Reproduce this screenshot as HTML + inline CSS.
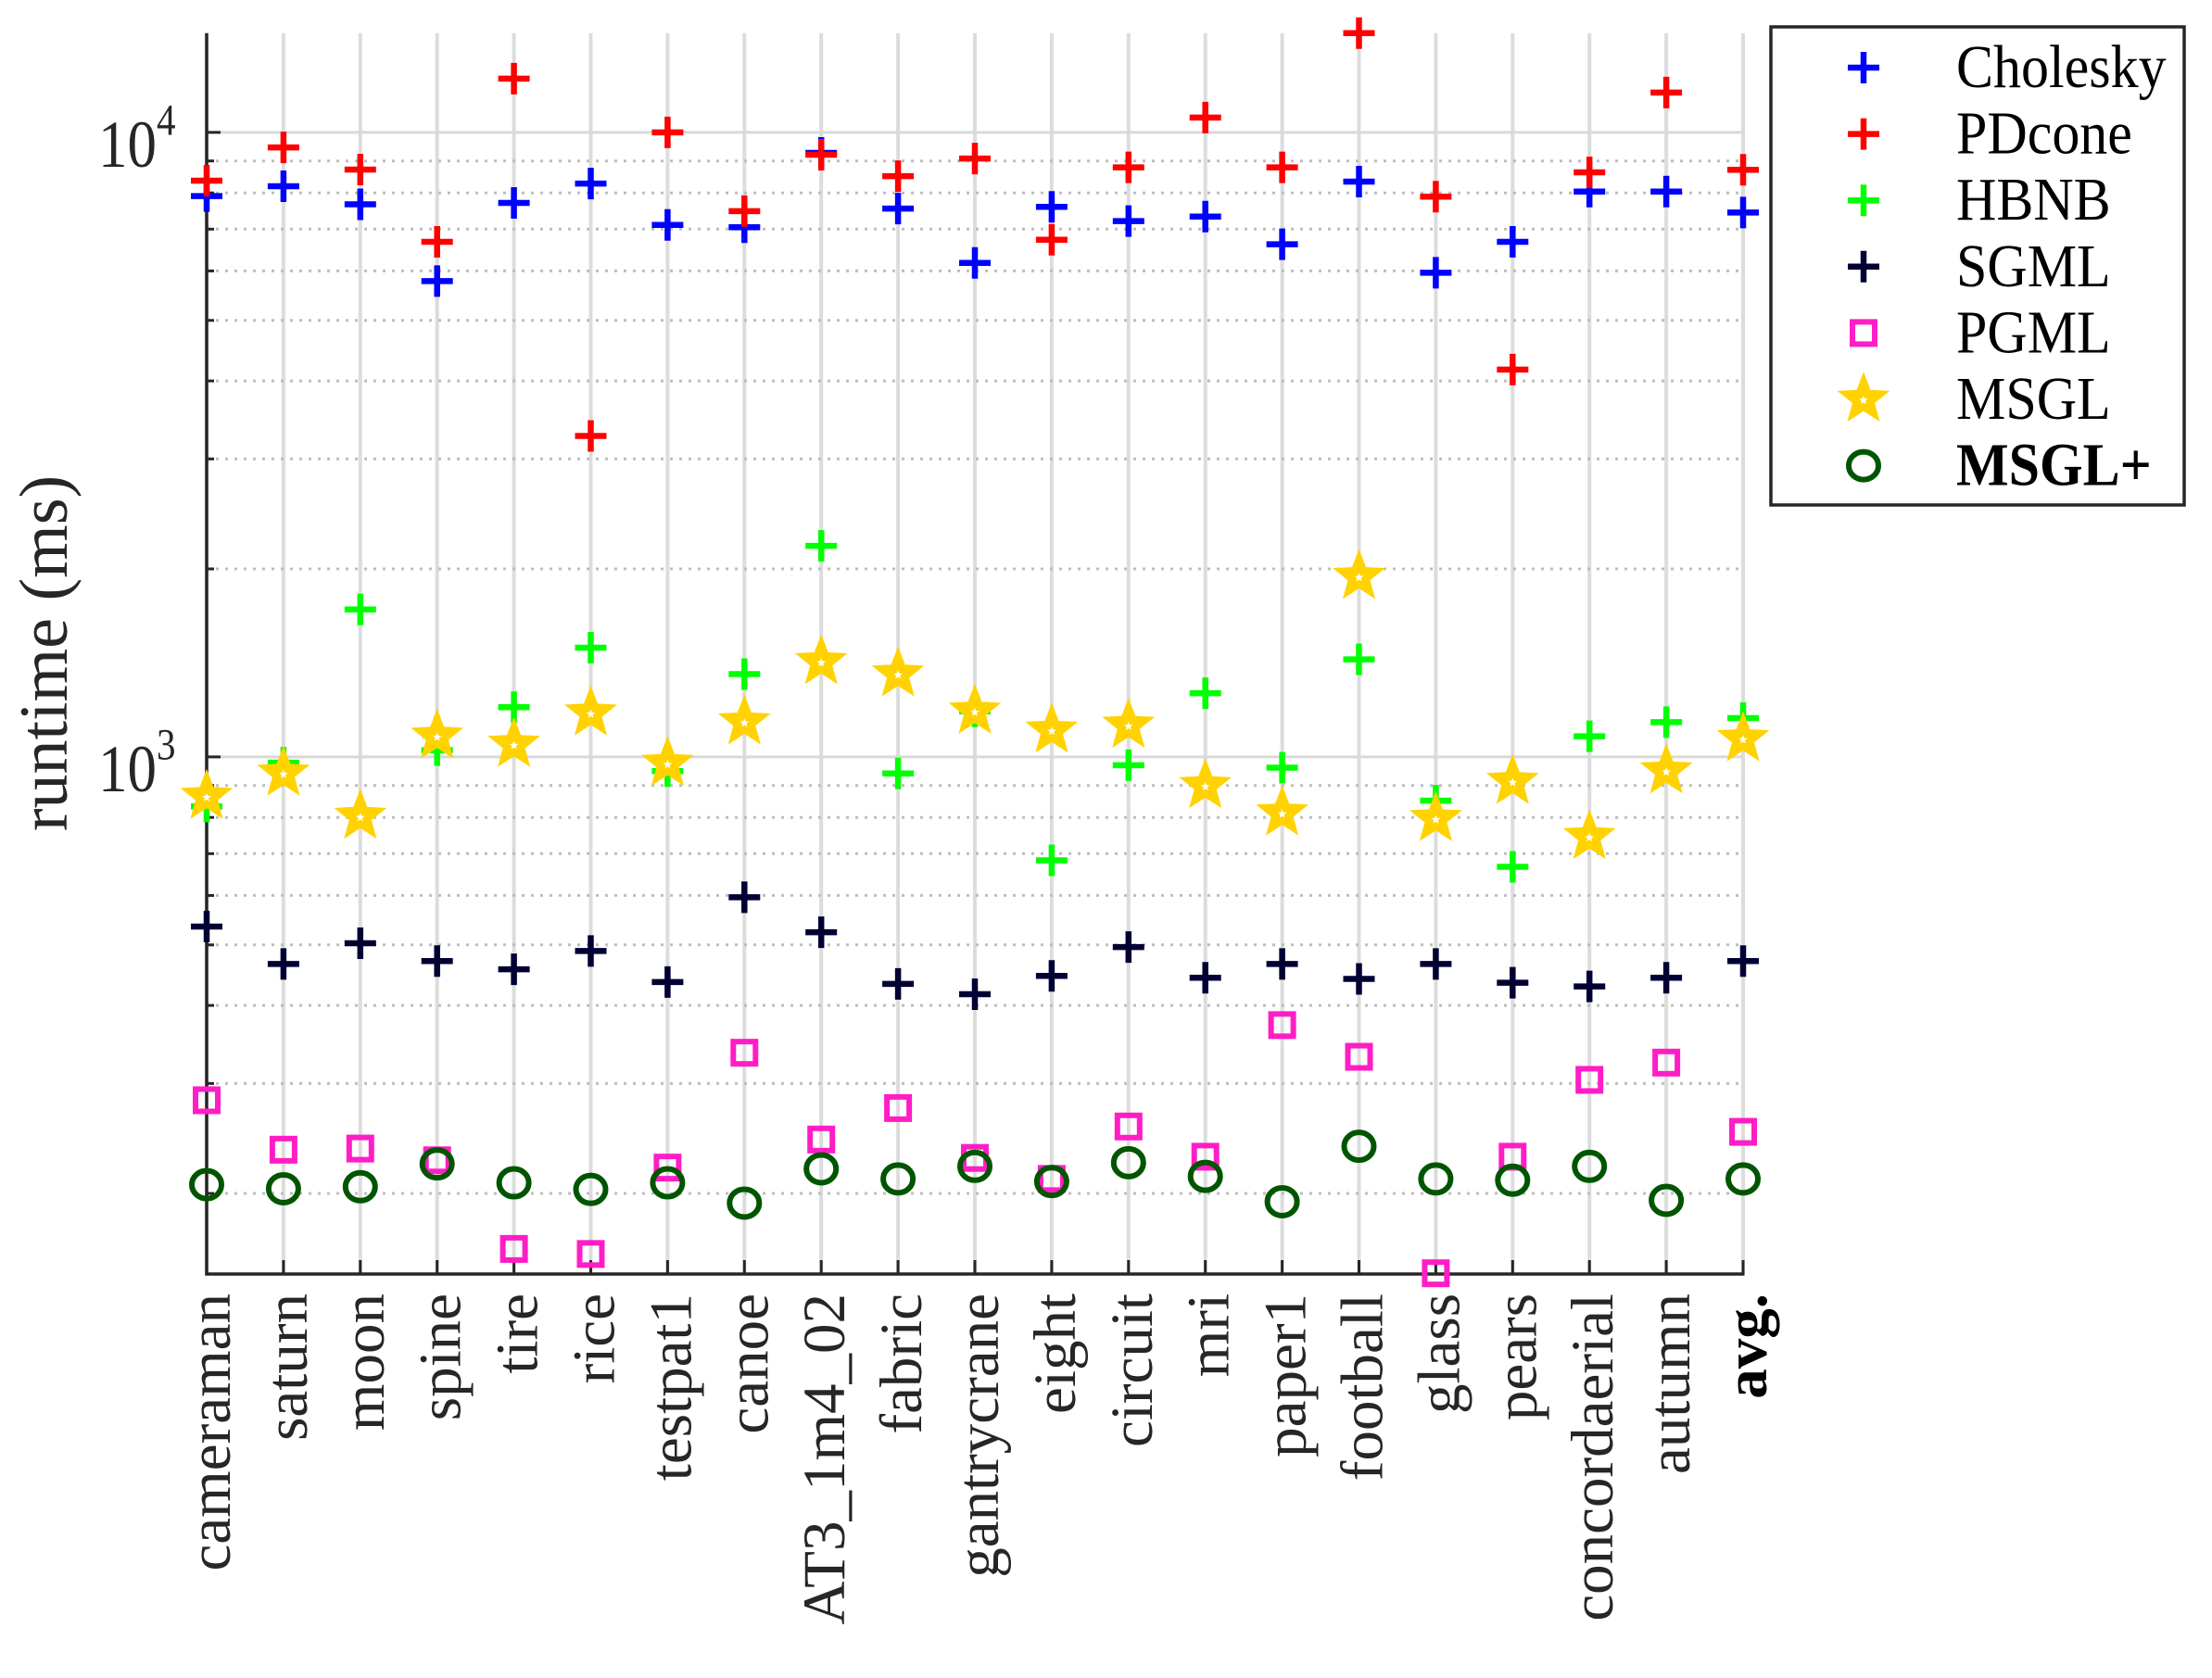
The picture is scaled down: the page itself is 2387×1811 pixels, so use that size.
<!DOCTYPE html>
<html><head><meta charset="utf-8"><style>
html,body{margin:0;padding:0;background:#fff;}
svg{display:block;font-family:"Liberation Serif","Times New Roman",serif;}
</style></head><body>
<svg id="chart" xmlns="http://www.w3.org/2000/svg" width="2387" height="1811" viewBox="0 0 2387 1811">
<rect width="2387" height="1811" fill="#fff"/>
<g id="grid"></g>
<g id="axes"></g>
<g id="marks"></g>
<g id="legend"></g>
</svg>
<script>
const categories = ["cameraman","saturn","moon","spine","tire","rice","testpat1","canoe","AT3_1m4_02","fabric","gantrycrane","eight","circuit","mri","paper1","football","glass","pears","concordaerial","autumn","avg."];
const cholesky = [7907,8200,7670,5780,7710,8280,7110,7050,9270,7550,6180,7600,7210,7330,6620,8340,5960,6680,8040,8040,7440];
const pdcone = [8370,9460,8720,6680,12190,3265,10000,7480,9210,8510,9080,6730,8790,10560,8790,14420,7890,4170,8630,11580,8710];
const hbnb = [833,979,1722,1025,1201,1496,949,1357,2177,941,1183,683,970,1265,961,1433,851,667,1079,1137,1154];
const sgml = [535,466,503,471,457,489,436,596,524,433,417,446,496,443,466,441,466,435,429,443,471];
const pgml = [282,235,236,226,163,160,220,336,244,274,228,211,256,229,372,331,149,229,304,324,251];
const msgl = [864,941,803,1079,1047,1175,976,1137,1420,1357,1183,1103,1123,899,813,1944,796,913,745,949,1069];
const msglPlus = [206.6,203.5,205,223,208,203,208,193,219,211,221,209,224,213,194,238,211,210,221,195,211];
const majorTicks = [1000,10000];
const majorTickExp = ["3","4"];
const minorTicks = [200,300,400,500,600,700,800,900,2000,3000,4000,5000,6000,7000,8000,9000];
const seriesNames = ["Cholesky","PDcone","HBNB","SGML","PGML","MSGL","MSGL+"];

const NS="http://www.w3.org/2000/svg";
const L=223,R=1881,T=35.7,B=1375,LMIN=2.172,LMAX=4.159;
function xs(i){return L+i*(R-L)/(categories.length-1);}
function ys(v){return B-(Math.log10(v)-LMIN)/(LMAX-LMIN)*(B-T);}
function el(tag,attrs,parent){const e=document.createElementNS(NS,tag);for(const k in attrs)e.setAttribute(k,attrs[k]);parent.appendChild(e);return e;}
const grid=document.getElementById('grid'),axes=document.getElementById('axes'),marks=document.getElementById('marks'),legend=document.getElementById('legend');

categories.forEach((c,i)=>{
  const g=el('line',{x1:xs(i),x2:xs(i),y1:T,y2:B,stroke:'#dcdcdc','stroke-width':4},grid);
  
  
});
minorTicks.forEach(v=>{
  const g=el('line',{x1:L,x2:R,y1:ys(v),y2:ys(v),stroke:'#bdbdbd','stroke-width':3,'stroke-dasharray':'3 7'},grid);
  
  
  const t=el('line',{x1:L,x2:L+8,y1:ys(v),y2:ys(v),stroke:'#262626','stroke-width':3},axes);
  
  
});
majorTicks.forEach((v,i)=>{
  const g=el('line',{x1:L,x2:R,y1:ys(v),y2:ys(v),stroke:'#d9d9d9','stroke-width':3},grid);
  
  
  const tk=el('line',{x1:L,x2:L+15,y1:ys(v),y2:ys(v),stroke:'#262626','stroke-width':3},axes);
  
  
  const y=ys(v);
  const t=el('text',{x:0,y:0,'font-size':63,fill:'#262626',transform:`translate(106,${y+37}) scale(1,1.15)`},axes);
  
  
  t.textContent='10';
  const s=el('tspan',{'font-size':41,dy:-30},t);
  s.textContent=majorTickExp[i];
});
const ya=el('line',{x1:L,x2:L,y1:T,y2:B+1.5,stroke:'#262626','stroke-width':3.5},axes);


const xa=el('line',{x1:L-1.5,x2:R+1.5,y1:B,y2:B,stroke:'#262626','stroke-width':3.5},axes);


categories.forEach((c,i)=>{
  const tk=el('line',{x1:xs(i),x2:xs(i),y1:B,y2:B-15,stroke:'#262626','stroke-width':3},axes);
  
  
  const t=el('text',{x:0,y:0,'font-size':65,fill:'#262626','text-anchor':'end',transform:`translate(${xs(i)+25},1396) rotate(-90)`},axes);
  if(c==='avg.'){t.setAttribute('font-weight','bold');t.setAttribute('fill','#000');}
  
  
  t.textContent=c;
});
const yl=el('text',{x:0,y:0,'font-size':74,fill:'#262626','text-anchor':'middle',transform:'translate(72,705) rotate(-90)'},axes);


yl.textContent='runtime (ms)';

function starPts(cx,cy,ro,ri){let p=[];for(let k=0;k<10;k++){const r=k%2?ri:ro;const a=-Math.PI/2+k*Math.PI/5;p.push((cx+r*Math.cos(a)).toFixed(1)+','+(cy+r*Math.sin(a)).toFixed(1));}return p.join(' ');}
function drawMarker(type,color,cx,cy,parent,name){
  const g=el('g',{},parent);
  
  
  if(type==='plus'){
    el('line',{x1:cx-17,x2:cx+17,y1:cy,y2:cy,stroke:color,'stroke-width':6.5},g);
    el('line',{x1:cx,x2:cx,y1:cy-17,y2:cy+17,stroke:color,'stroke-width':6.5},g);
  }else if(type==='square'){
    el('rect',{x:cx-12,y:cy-12,width:24,height:24,fill:'none',stroke:color,'stroke-width':6},g);
  }else if(type==='star'){
    el('polygon',{points:starPts(cx,cy,27,11.5),fill:color,stroke:color,'stroke-width':2},g);
    el('polygon',{points:starPts(cx,cy+1,5,2.2),fill:'#fff'},g);
  }else if(type==='circle'){
    el('ellipse',{cx:cx,cy:cy,rx:16,ry:15,fill:'none',stroke:color,'stroke-width':6},g);
  }
}
const series=[
  {data:cholesky,type:'plus',color:'#0000ff',name:'cholesky-point'},
  {data:pdcone,type:'plus',color:'#ff0000',name:'pdcone-point'},
  {data:hbnb,type:'plus',color:'#00ff00',name:'hbnb-point'},
  {data:sgml,type:'plus',color:'#000033',name:'sgml-point'},
  {data:pgml,type:'square',color:'#ff1dc6',name:'pgml-point'},
  {data:msgl,type:'star',color:'#ffd200',name:'msgl-point'},
  {data:msglPlus,type:'circle',color:'#005500',name:'msgl-plus-point'}
];
series.forEach(s=>{
  s.data.forEach((v,i)=>drawMarker(s.type,s.color,xs(i),ys(v),marks,s.name));
});
const box=el('rect',{x:1911,y:29,width:446,height:516,fill:'#fff',stroke:'#262626','stroke-width':3.5},legend);


series.forEach((s,i)=>{
  const cy=73+i*71.6;
  drawMarker(s.type,s.color,2011,cy,legend,'legend-marker');
  const t=el('text',{x:0,y:0,'font-size':60,fill:'#000',transform:`translate(2111,${cy+21}) scale(1,1.1)`},legend);
  if(i===6)t.setAttribute('font-weight','bold');
  
  
  t.textContent=seriesNames[i];
});
</script>
</body></html>
